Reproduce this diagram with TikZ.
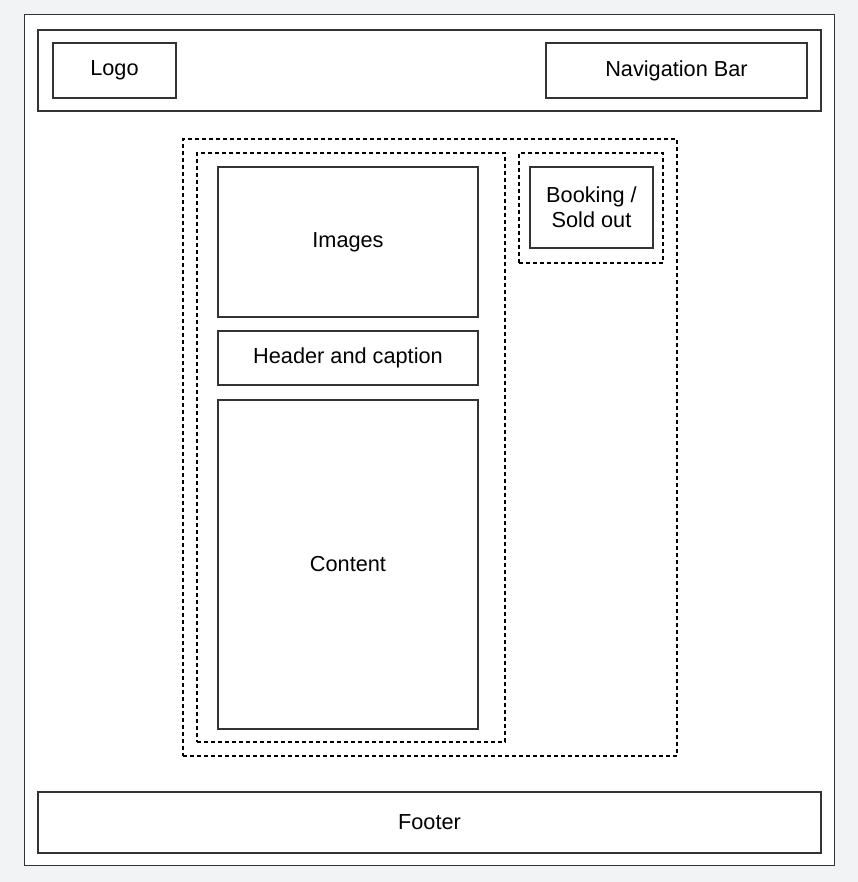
\documentclass[tikz,border=0pt]{standalone}
\usepackage{fontspec}
\setmainfont{Liberation Sans}
\usetikzlibrary{positioning}
\definecolor{pagegray}{RGB}{242,243,245}
\definecolor{boxline}{RGB}{51,51,51}

\begin{document}
\begin{tikzpicture}[x=1bp,y=-1bp,
    box/.style={draw=boxline,line width=1.3bp,fill=white,inner sep=0pt,outer sep=0pt,
      align=center,font=\fontsize{21.8}{25}\selectfont},
    region/.style={draw=black,line width=1.2bp,dash pattern=on 4bp off 3bp,
      inner sep=0pt,outer sep=0pt}]

            \fill[pagegray] (0,0) rectangle (858,882);
            \useasboundingbox (0,0) rectangle (858,882);

            \node[box,line width=1bp,minimum width=809bp,minimum height=850bp] (frame) at (429.5,440) {};

            % top bar
            \node[box,minimum width=783bp,minimum height=81bp] (topbar) at (429.5,70.5) {};
            \node[box,minimum width=123bp,minimum height=55bp] (logo) at (114.5,70.5) {Logo};
            \node[box,minimum width=261bp,minimum height=55bp] (nav) at (676.5,70.5) {Navigation Bar};

            % main area
            \node[region,minimum width=494bp,minimum height=617bp] (main) at (430,447.5) {};
            \node[region,minimum width=308bp,minimum height=589bp] (article) at (351,447.5) {};
            \node[box,minimum width=260bp,minimum height=150bp] (images) at (348,242) {Images};
            \node[box,minimum width=260bp,minimum height=54bp] (caption) [below=14bp of images] {Header and caption};
            \node[box,minimum width=260bp,minimum height=329bp] (content) [below=15bp of caption] {Content};

            % side panel
            \node[region,minimum width=144bp,minimum height=110bp] (side) at (591,208) {};
            \node[box,minimum width=123bp,minimum height=81bp] (booking) at (591.5,207.5) {Booking /\\Sold out};

            \node[box,minimum width=783bp,minimum height=61bp] (footer) at (429.5,822.5) {Footer};

        \end{tikzpicture}
\end{document}
